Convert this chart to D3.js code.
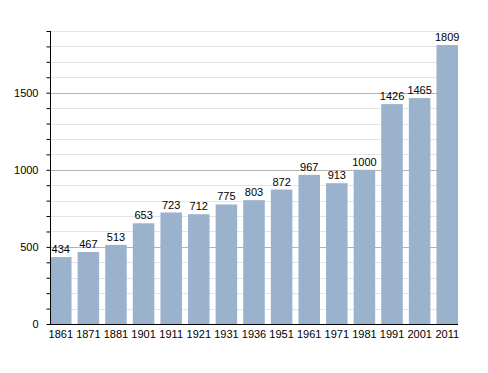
<!DOCTYPE html>
<html>
<head>
<meta charset="utf-8">
<script src="https://cdn.jsdelivr.net/npm/d3@7"></script>
<style>
  body { margin: 0; background: #fff; }
  text { font-family: "Liberation Sans", Arial, sans-serif; font-size: 11px; fill: #000; }
</style>
</head>
<body>
<div id="chart"></div>
<script>
// Census years and population
const years = ["1861", "1871", "1881", "1901", "1911", "1921", "1931", "1936", "1951", "1961", "1971", "1981", "1991", "2001", "2011"]
const population = [434, 467, 513, 653, 723, 712, 775, 803, 872, 967, 913, 1000, 1426, 1465, 1809]
const majorTicks = [0, 500, 1000, 1500]

let width = 488
let height = 373
let plotLeft = 50, plotRight = 458, plotTop = 31, plotBottom = 324

let svg = d3.select("#chart").append("svg")
    .attr("width", width)
    .attr("height", height)

let x = d3.scaleBand()
    .domain(years)
    .range([plotLeft, plotRight])
    .paddingInner(0.22)
    .paddingOuter(0)

let y = d3.scaleLinear()
    .domain([0, 1900])
    .range([plotBottom, plotTop])

let minor = d3.range(100, 1901, 100).filter((v) => v % 500 != 0)

// minor grid lines
svg.append("g").selectAll("line")
    .data(minor)
    .enter().append("line")
    .attr("x1", plotLeft).attr("x2", plotRight)
    .attr("y1", (d) => Math.round(y(d)) + 0.5)
    .attr("y2", (d) => Math.round(y(d)) + 0.5)
    .style("stroke", "#e4e4e4")

// major grid lines
svg.append("g").selectAll("line")
    .data(majorTicks.filter((d) => d > 0))
    .enter().append("line")
    .attr("x1", plotLeft).attr("x2", plotRight)
    .attr("y1", (d) => Math.round(y(d)) + 0.5)
    .attr("y2", (d) => Math.round(y(d)) + 0.5)
    .style("stroke", "#b4b4b4")

// bars
svg.append("g").selectAll("rect")
    .data(population)
    .enter().append("rect")
    .attr("x", (d, i) => x(years[i]))
    .attr("y", (d) => y(d))
    .attr("width", x.bandwidth())
    .attr("height", (d) => plotBottom - y(d))
    .style("fill", "#9bb2cd")

// value labels
svg.append("g").selectAll("text")
    .data(population)
    .enter().append("text")
    .attr("x", (d, i) => x(years[i]) + x.bandwidth() / 2)
    .attr("y", (d) => y(d) - 4)
    .attr("text-anchor", "middle")
    .text((d) => d)

// y axis
let yAxis = d3.axisLeft(y)
    .tickValues(d3.range(0, 1901, 100))
    .tickSize(4)
    .tickFormat((d) => majorTicks.indexOf(d) >= 0 ? d : "")

let ya = svg.append("g")
    .attr("transform", "translate(" + (plotLeft + 0.5) + ",0)")
    .call(yAxis)
ya.select(".domain").attr("d", "M0," + plotTop + "V" + plotBottom).style("stroke", "#000")
ya.selectAll(".tick line").style("stroke", "#000")
ya.selectAll(".tick text").attr("x", -12).style("font-size", "11px").style("font-family", "Liberation Sans, Arial, sans-serif")

// x axis
let xa = svg.append("g")
    .attr("transform", "translate(0," + (plotBottom + 0.5) + ")")
    .call(d3.axisBottom(x).tickSize(0))
xa.select(".domain").attr("d", "M" + plotLeft + ",0H" + plotRight).style("stroke", "#000")
xa.selectAll(".tick text").attr("y", 6).style("font-size", "11px").style("font-family", "Liberation Sans, Arial, sans-serif")
</script>
</body>
</html>
